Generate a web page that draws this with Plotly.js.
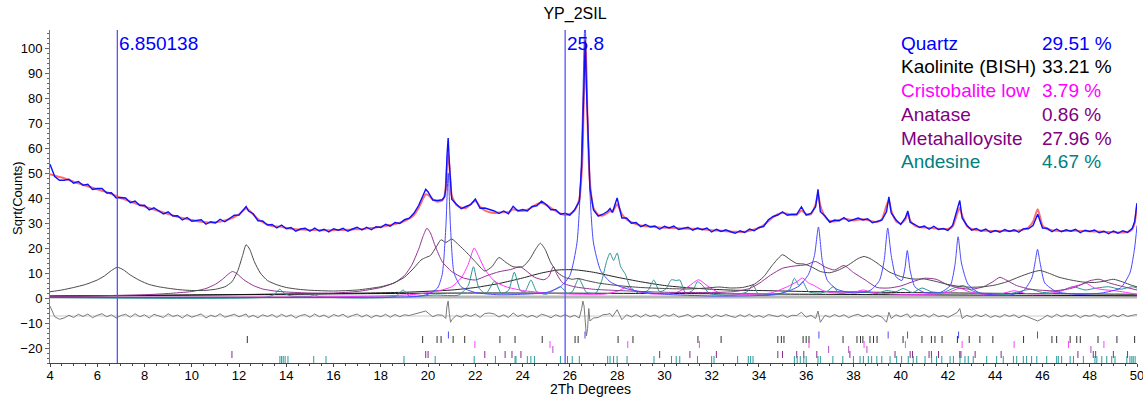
<!DOCTYPE html>
<html>
<head>
<meta charset="utf-8">
<script src="https://cdn.plot.ly/plotly-3.0.1.min.js"></script>
<style>html,body{margin:0;padding:0;background:#fff}#chart{width:1143px;height:400px}</style>
</head>
<body>
<div id="chart"></div>
<script>
// ---------- DATA ----------
const twoTheta = [
4.0,4.1,4.2,4.4,4.6,4.8,5.0,5.2,5.4,5.6,
5.8,6.0,6.2,6.4,6.6,6.8,7.0,7.2,7.4,7.6,
7.8,8.0,8.2,8.4,8.6,8.8,9.0,9.2,9.4,9.6,
9.8,10.0,10.2,10.4,10.6,10.8,11.0,11.2,11.4,11.6,
11.8,12.0,12.2,12.3,12.4,12.6,12.8,13.0,13.2,13.4,
13.6,13.8,14.0,14.2,14.4,14.6,14.8,15.0,15.2,15.4,
15.6,15.8,16.0,16.2,16.4,16.6,16.8,17.0,17.2,17.4,
17.6,17.8,18.0,18.2,18.4,18.6,18.8,19.0,19.2,19.4,
19.6,19.8,19.9,20.0,20.2,20.4,20.6,20.7,20.75,20.8,
20.85,20.9,20.95,21.0,21.2,21.4,21.6,21.8,22.0,22.2,
22.4,22.6,22.8,23.0,23.2,23.4,23.6,23.8,24.0,24.2,
24.4,24.6,24.8,25.0,25.2,25.4,25.6,25.8,26.0,26.2,
26.4,26.5,26.55,26.6,26.65,26.7,26.75,26.8,26.85,27.0,
27.2,27.4,27.6,27.7,27.8,28.0,28.2,28.4,28.6,28.8,
29.0,29.2,29.4,29.6,29.8,30.0,30.2,30.4,30.6,30.8,
31.0,31.2,31.4,31.6,31.8,32.0,32.2,32.4,32.6,32.8,
33.0,33.2,33.4,33.6,33.8,34.0,34.2,34.4,34.6,34.8,
35.0,35.2,35.4,35.6,35.8,36.0,36.2,36.4,36.5,36.6,
36.8,37.0,37.2,37.4,37.6,37.8,38.0,38.2,38.4,38.6,
38.8,39.0,39.2,39.4,39.5,39.6,39.8,40.0,40.2,40.3,
40.4,40.6,40.8,41.0,41.2,41.4,41.6,41.8,42.0,42.2,
42.4,42.5,42.6,42.8,43.0,43.2,43.4,43.6,43.8,44.0,
44.2,44.4,44.6,44.8,45.0,45.2,45.4,45.6,45.8,46.0,
46.2,46.4,46.6,46.8,47.0,47.2,47.4,47.6,47.8,48.0,
48.2,48.4,48.6,48.8,49.0,49.2,49.4,49.6,49.8,49.9,
50.0];
const calcCounts = [
49.5,49.2,48.9,48.4,47.9,47.2,46.5,45.9,45.3,44.7,
44.1,43.5,42.9,42.3,41.6,40.8,40.0,39.3,38.6,37.9,
37.3,36.6,36.0,35.4,34.8,34.2,33.6,33.0,32.5,32.0,
31.6,31.2,30.8,30.5,30.3,30.2,30.3,30.6,31.0,31.6,
32.4,33.5,35.2,35.8,35.3,33.4,31.6,30.3,29.4,28.8,
28.6,28.5,28.0,27.7,27.5,27.4,27.3,27.2,27.2,27.1,
27.1,27.1,27.1,27.2,27.2,27.3,27.4,27.5,27.6,27.8,
28.0,28.2,28.5,28.8,29.2,29.6,30.1,30.8,31.7,33.2,
36.0,40.0,41.5,41.2,39.5,38.5,39.0,41.0,45.0,53.0,
58.0,53.0,46.0,41.0,37.2,36.2,36.0,37.5,38.8,36.5,
35.0,34.3,34.0,34.2,34.3,34.3,35.5,35.0,34.8,35.3,
36.3,37.5,38.0,37.2,36.0,34.8,33.8,33.3,33.6,35.0,
39.5,50.0,62.0,85.0,104.0,92.0,70.0,55.0,46.0,36.0,
33.3,33.0,34.0,34.8,34.5,37.5,33.5,31.5,30.3,29.6,
29.0,28.7,28.6,28.4,28.2,28.1,28.1,28.0,27.9,27.8,
27.7,27.7,27.7,27.5,27.3,27.1,27.0,26.9,26.7,26.6,
26.5,26.4,26.5,26.9,27.4,28.0,29.2,30.7,32.3,33.5,
34.0,33.7,33.2,33.3,35.0,33.6,33.5,37.5,41.5,37.0,
32.5,30.8,30.6,31.2,31.7,31.4,31.0,31.3,31.5,31.2,
30.7,30.4,31.5,37.0,39.0,35.0,30.8,29.7,31.5,34.0,
31.0,28.9,28.4,28.2,28.0,27.9,27.7,27.6,27.6,28.6,
34.0,36.0,33.0,28.8,27.6,27.2,27.0,26.9,26.8,26.8,
26.8,26.8,26.8,26.8,27.0,27.4,28.2,30.5,35.5,29.0,
27.6,27.1,26.9,26.8,26.8,26.9,26.9,26.8,26.8,26.7,
26.6,26.6,26.5,26.4,26.3,26.2,26.2,26.4,27.5,30.0,
37.5];
// observed minus calculated
const residual = [
4.0,2.0,-0.3,-1.3,-0.8,0.3,-0.6,0.7,-0.2,0.8,
-0.7,0.3,0.9,-0.3,0.5,-0.8,0.2,0.7,-0.5,0.9,
-0.3,0.5,-0.8,0.7,0.1,-0.6,0.9,-0.2,0.4,-0.8,
0.6,-0.5,0.2,0.8,-0.8,0.3,-0.3,0.9,-0.5,0.1,
0.7,-0.3,0.6,0.8,-0.5,0.3,-0.7,0.5,-0.2,0.6,
-0.6,0.7,-0.3,0.5,-0.8,0.2,0.6,-0.5,0.8,-0.3,
0.4,-0.7,0.6,-0.1,0.7,-0.6,0.2,0.8,-0.4,0.5,
-0.7,0.3,-0.3,0.7,-0.5,0.6,-0.3,0.5,0.2,0.7,
1.0,1.6,2.0,1.2,-0.3,0.5,0.3,-0.5,-1.0,4.0,
6.0,1.0,-2.5,-1.5,0.3,-0.5,0.6,-0.2,0.8,-0.6,
1.0,1.2,0.8,-0.4,0.5,-0.6,1.2,-0.2,0.6,-0.5,
0.3,-0.6,0.7,0.2,-0.7,0.5,-0.3,0.6,-0.5,0.3,
-0.8,3.0,6.0,4.0,-1.0,-8.0,-5.0,3.0,-2.0,-0.8,
-0.6,0.5,0.7,1.0,-0.3,2.5,-1.5,0.5,-0.4,0.6,
-0.5,0.7,-0.2,0.4,-0.7,0.6,-0.1,0.8,-0.5,0.2,
0.6,-0.6,0.3,-0.2,0.7,-0.7,0.5,-0.3,0.6,-0.1,
-0.6,0.5,-0.3,0.7,-0.5,0.2,-0.6,0.6,0.3,-0.3,
0.5,-0.6,0.3,0.2,1.5,-0.5,0.3,-1.0,2.0,-2.5,
0.3,-0.5,0.6,-0.3,0.5,-0.7,0.2,0.7,-0.3,0.5,
-0.6,0.3,-0.4,-2.5,1.5,-1.0,0.5,-0.3,0.6,0.8,
-0.7,0.5,-0.2,0.6,-0.5,0.8,-0.3,0.2,-0.6,0.5,
1.5,3.0,-1.0,0.3,-0.5,0.6,-0.3,0.7,-0.6,0.2,
-0.5,0.6,-0.2,0.5,-0.7,0.3,-0.5,-1.5,-2.0,-1.0,
0.3,-0.6,0.7,-0.3,0.5,-0.2,0.6,-0.7,0.3,-0.1,
0.6,-0.5,0.2,-0.7,0.5,-0.3,0.7,-0.2,0.4,0.5,
0.5];

// phase contributions
const quartzX = [4,18,19.5,20.0,20.4,20.6,20.75,20.85,20.95,21.1,21.4,22,23,24,25,25.6,26.0,26.3,26.45,26.55,26.64,26.73,26.85,27.0,27.3,27.7,28.3,29,30,32,34,35,35.7,36.1,36.35,36.52,36.68,36.9,37.3,38,38.7,39.1,39.3,39.45,39.6,39.8,40.05,40.18,40.28,40.4,40.6,41,41.7,42.1,42.3,42.43,42.57,42.85,43.3,44.5,45.2,45.55,45.7,45.79,45.9,46.1,46.6,47.5,48.5,49.3,49.7,49.9,50];
const quartzY = [0.2,0.3,0.6,1.5,4.0,9.5,28,50,28,10,4.5,2.2,1.3,1.5,2.2,4.5,9,22,45,80,112,80,42,22,11,6.5,4,2.5,1.5,0.8,1.0,2.0,4.8,9.5,17,28.4,15,7,3.5,2.0,3.0,7.0,15,28,17,8.5,7,12,19,11,4.5,2.2,2.3,5,13.5,24.5,14,5.5,2.2,1.0,3.0,8,15,19.5,14,6,2.5,1.5,2.0,4.0,10,20,29];

const kaoliniteX = [4,4.5,5,5.5,6,6.3,6.6,6.85,7.1,7.4,7.8,8.2,8.6,9,9.5,10,10.5,11,11.4,11.7,11.95,12.15,12.3,12.45,12.65,12.9,13.2,13.6,14,14.5,15,16,17,18,18.5,19,19.4,19.7,19.9,20.1,20.35,20.55,20.75,21.0,21.3,21.6,21.8,22.0,22.4,22.7,23.0,23.3,23.6,24.0,24.3,24.55,24.75,24.95,25.2,25.5,25.8,26.1,26.35,26.7,27.2,28,29,30,31,31.8,32.3,32.8,33.3,33.8,34.2,34.6,35.0,35.3,35.6,35.9,36.2,36.6,37.0,37.4,37.8,38.2,38.45,38.7,39.0,39.5,40.0,40.5,41.0,41.5,42.0,42.5,43.0,43.5,44.0,44.5,45.0,45.5,45.9,46.3,46.7,47.2,47.7,48.2,48.6,49.0,49.4,49.8,50];
const kaoliniteY = [2.5,3.2,4.2,5.4,7.2,8.8,11.0,12.3,11.3,9.2,7.0,5.4,4.5,3.9,3.3,3.0,3.0,3.5,4.5,6.5,11,17,21.3,19.5,14.5,10.0,7.0,5.3,4.2,3.5,3.1,2.8,3.2,4.5,5.8,8.3,12.0,15.2,16.2,17.0,20.5,23.3,22.2,23.6,21.2,18.5,16.5,14.5,10.8,12.5,16.2,14.2,12.5,12.5,15.5,19.5,21.9,19.5,14.0,10.0,8.2,7.5,7.8,7.0,6.0,5.0,4.2,3.8,3.6,4.0,4.4,4.0,4.2,5.5,8.5,13.5,17.3,15.5,13.8,13.6,12.6,10.6,10.1,11.3,13.3,15.8,16.6,15.8,14.0,10.5,8.6,7.6,7.6,6.6,5.4,4.6,4.3,4.5,5.2,6.5,8.4,10.1,11.0,9.8,8.3,7.2,6.4,6.2,6.7,7.5,6.4,5.0,4.5];

const humpX = [4,10,16,19,21,22,23,24,24.8,25.5,26.2,27,28,29,30,31,32,33,34,36,40,45,50];
const humpY = [0.8,1.2,1.8,2.3,3.2,4.2,5.8,8.0,10.0,11.2,11.3,10.3,8.3,6.5,5.0,4.1,3.5,3.1,3.0,2.6,2.2,1.8,1.5];

const metahalloysiteX = [4,6,8,9,10,10.6,11.0,11.3,11.55,11.72,11.9,12.2,12.6,13.0,13.5,14,15,16,17,18,18.6,19.0,19.3,19.6,19.8,19.95,20.1,20.3,20.6,21.0,21.5,22.0,22.5,23.0,23.5,23.9,24.2,24.5,24.9,25.1,25.3,25.45,25.7,26.2,27,28,30,32,33,33.6,34.0,34.5,35.0,35.5,36.0,36.4,36.8,37.2,37.6,38.0,38.5,39.0,39.5,40.0,40.5,41.0,41.5,42.0,42.5,43.0,43.5,43.9,44.2,44.5,44.9,45.5,46.5,47.2,47.6,48.0,48.4,48.8,49.3,50];
const metahalloysiteY = [0.6,0.9,1.3,1.8,2.6,3.8,5.5,7.5,9.6,10.6,9.8,7.3,5.0,3.6,2.8,2.4,2.0,2.0,2.6,4.2,6.2,9.0,13.0,19.5,25.0,27.9,26.0,20.8,14.5,10.6,8.0,7.2,9.0,10.5,11.4,12.5,10.5,8.3,7.3,8.5,12.5,9.5,6.0,4.5,3.5,3.0,2.3,2.2,2.6,3.8,5.8,9.2,11.9,12.8,13.3,14.6,12.4,11.2,13.0,10.2,7.2,4.2,4.0,4.8,6.5,7.9,7.5,5.2,4.0,3.5,4.5,6.5,8.3,7.0,5.0,3.5,2.9,3.8,5.2,6.9,7.5,6.1,4.8,3.2];

const cristobaliteX = [4,15,18,19.5,20.5,21.0,21.4,21.7,21.95,22.15,22.4,22.8,23.3,24,25,26,27.5,28.1,28.4,28.7,29.5,30.5,31.0,31.45,31.8,32.3,33.5,34.5,35.2,35.6,35.85,36.1,36.3,36.7,37.2,38.0,38.4,38.8,40.0,41.5,42.1,42.5,42.9,43.5,44.3,44.8,45.3,46.3,46.8,47.2,47.6,47.85,48.2,48.6,49.0,49.5,50];
const cristobaliteY = [0.3,0.4,0.8,1.5,3.0,4.5,8.0,13.5,20.0,16.5,11.5,6.8,4.5,3.0,2.0,1.6,1.6,3.0,4.5,3.0,1.6,2.2,4.5,7.3,5.0,2.2,1.5,2.0,4.5,6.5,8.0,6.0,5.2,3.0,2.0,2.2,3.2,2.2,1.5,1.6,2.5,3.9,2.5,1.5,1.8,2.9,1.8,1.8,2.8,4.3,5.3,5.9,4.0,3.3,3.0,2.3,1.5];

const andesineX = [4,13.2,13.5,13.72,13.9,14.2,15.0,15.2,15.4,18.6,18.95,19.2,20.3,21.3,21.7,21.92,22.15,22.45,22.82,23.1,23.4,23.65,23.9,24.1,24.35,24.6,25.0,25.6,25.9,26.1,26.38,26.7,27.1,27.35,27.55,27.7,27.85,28.0,28.15,28.35,28.55,28.9,29.3,29.55,29.8,30.05,30.3,30.5,30.65,30.9,31.2,31.4,31.6,31.9,32.4,33.0,33.5,33.75,34.0,34.8,35.3,35.5,35.7,35.85,36.1,36.6,36.9,37.15,37.4,37.9,38.4,39.0,39.4,39.8,40.1,40.5,40.9,41.3,41.8,42.3,42.65,43.0,43.5,44.5,45.0,45.5,46.0,46.8,47.3,47.8,48.3,48.8,49.3,49.8,50];
const andesineY = [0.2,0.4,1.5,3.5,2.0,0.8,0.6,1.2,0.5,0.6,3.2,0.8,1.2,1.2,5.0,12.5,4.0,1.8,6.8,1.8,3.0,10.3,3.0,2.5,7.2,2.5,1.5,4.5,1.8,2.5,7.8,2.3,2.0,7.0,14.5,18.0,15.0,18.0,12.5,9.5,4.5,2.0,3.0,7.2,2.5,3.5,7.3,7.0,7.2,2.0,3.0,6.5,5.2,1.8,1.2,1.2,2.5,5.2,1.2,1.5,3.5,7.9,5.0,6.5,2.5,2.0,2.8,4.5,1.8,2.5,2.5,1.8,3.0,2.5,3.8,2.2,4.0,2.5,2.2,4.2,5.0,3.0,1.5,1.5,2.5,3.5,2.2,3.0,4.5,3.2,4.0,4.5,3.5,4.5,4.0];

const backgroundX = [4,14,22,30,40,50];
const backgroundY = [0.7,1.5,2.0,1.8,1.3,0.9];

// reflection positions (tick marks) per phase
const quartzRefl = [20.86,26.64,36.54,39.47,40.29,42.45,45.79];
const kaoliniteRefl = [12.35,19.77,20.38,20.55,21.06,21.55,23.04,23.68,24.83,26.22,26.35,28.04,28.67,31.42,32.4,34.8,34.95,35.06,35.87,36.0,36.12,37.56,38.15,38.3,38.4,38.7,38.85,39.0,40.1,40.9,41.3,41.45,41.75,42.4,42.9,43.35,43.9,45.2,46.4,46.6,47.17,47.45,47.6,48.35,49.15,49.9];
const cristobaliteRefl = [21.98,25.16,28.45,31.48,36.12,38.45,40.2,42.6,44.8,47.1,48.6];
const anataseRefl = [25.28,36.95,37.8,38.57,48.05];
const metahalloysiteRefl = [11.7,19.9,20.0,22.4,23.26,23.55,23.93,29.8,31.08,32.2,34.8,35.0,35.6,35.9,36.45,37.85,39.76,40.4,40.5,41.2,41.3,41.6,42.5,42.55,43.15,44.25,47.5,48.15,48.25,49.0,49.6];
const andesineRefl = [13.73,13.8,13.87,13.95,14.07,15.16,15.68,18.98,20.3,21.95,22.85,23.68,23.72,24.2,24.35,24.5,25.6,25.9,26.1,26.4,27.6,27.7,27.85,28.0,28.42,29.56,30.3,30.5,30.65,31.4,32.0,32.1,33.1,33.55,33.65,33.75,35.5,35.62,35.75,35.9,36.0,36.5,36.6,37.13,37.55,38.0,38.28,38.42,38.63,38.77,38.99,39.2,39.55,39.83,40.04,40.32,40.53,40.68,41.03,41.31,41.52,41.74,42.09,42.23,42.51,42.72,42.86,43.07,43.64,44.06,44.34,44.77,44.91,45.19,45.33,45.54,45.76,46.18,46.6,46.67,46.81,47.17,47.31,47.73,48.22,48.3,48.51,48.72,48.93,49.07,49.57,49.7,49.78,49.84,49.92];

const cursors = [6.850138, 25.8];
const cursorLabels = ["6.850138", "25.8"];

const phaseNames = ["Quartz","Kaolinite (BISH)","Cristobalite low","Anatase","Metahalloysite","Andesine"];
const phasePercent = ["29.51 %","33.21 %","3.79 %","0.86 %","27.96 %","4.67 %"];

// ---------- STYLE ----------
const FONT = "Liberation Sans, Arial, sans-serif";
const phaseColors = ["#0000ff","#000000","#ff00ff","#800080","#800080","#008080"];
const tickColors = ["#4a4aff","#333333","#ff44ff","#b050c0","#8a2a8a","#2a9a9a"];
const tickRows = [-14.8,-16.6,-18.6,-20.6,-22.6,-24.6];
const DIFF_OFFSET = -7.2;
// plot-area pixel frame, for placing free text
const PX = {l: 50, r: 1137, t: 30, b: 363};
const px2x = p => (p - PX.l) / (PX.r - PX.l);
const px2y = p => (PX.b - p) / (PX.b - PX.t);

const obsCounts = twoTheta.map((_, i) => calcCounts[i] + residual[i]);
const diffCounts = residual.map(r => r + DIFF_OFFSET);

function line(x, y, color, width, shape) {
  return {x, y, type: "scatter", mode: "lines", hoverinfo: "skip",
          line: {color, width: width || 1, shape: shape || "spline", smoothing: 0.6}};
}

const traces = [
  line(backgroundX, backgroundY.map(()=>0.4), "#b8b8b8", 3, "linear"),
  line(humpX, humpY, "#222222", 1),
  line(backgroundX, backgroundY, "#111111", 1),
  line(andesineX, andesineY, "#2a9494", 1),
  line(cristobaliteX, cristobaliteY, "#ff33ff", 1),
  line(metahalloysiteX, metahalloysiteY, "#933393", 1),
  line(kaoliniteX, kaoliniteY, "#4a4a4a", 1),
  line(quartzX, quartzY, "#4848ff", 1),
  line(twoTheta, diffCounts, "#7a7a7a", 1, "linear"),
  line(twoTheta, calcCounts, "rgba(255,60,60,0.75)", 2, "spline"),
  line(twoTheta, obsCounts, "#1010ff", 1.4, "linear")
];

const refl = [quartzRefl, kaoliniteRefl, cristobaliteRefl, anataseRefl, metahalloysiteRefl, andesineRefl];
refl.forEach((xs, k) => {
  traces.push({x: xs, y: xs.map(() => tickRows[k]), type: "scatter", mode: "markers", hoverinfo: "skip",
    marker: {symbol: "line-ns", size: 5, line: {color: tickColors[k], width: 1}}});
});

const shapes = [
  {type: "line", xref: "paper", yref: "y", x0: 0, x1: 1, y0: DIFF_OFFSET, y1: DIFF_OFFSET,
   line: {color: "#cccccc", width: 1}, layer: "below"}
];
cursors.forEach(c => shapes.push({type: "line", xref: "x", yref: "paper", x0: c, x1: c, y0: 0, y1: 1,
   line: {color: "#5555ff", width: 1.3}}));

const annotations = [];
cursors.forEach((c, i) => annotations.push({x: c, y: 102, xref: "x", yref: "y", text: cursorLabels[i],
   showarrow: false, xanchor: "left", yanchor: "middle",
   font: {family: FONT, size: 19, color: "#0000ff"}}));
phaseNames.forEach((n, i) => {
  const yPix = 43 + i * 23.8;
  annotations.push({x: px2x(899), y: px2y(yPix), xref: "paper", yref: "paper", text: n, showarrow: false,
    xanchor: "left", yanchor: "middle", font: {family: FONT, size: 19, color: phaseColors[i]}});
  annotations.push({x: px2x(1040), y: px2y(yPix), xref: "paper", yref: "paper", text: phasePercent[i], showarrow: false,
    xanchor: "left", yanchor: "middle", font: {family: FONT, size: 19, color: phaseColors[i]}});
});
// axis titles
annotations.push({x: px2x(590), y: px2y(389), xref: "paper", yref: "paper", text: "2Th Degrees", showarrow: false,
  xanchor: "center", yanchor: "middle", font: {family: FONT, size: 14, color: "#000"}});
annotations.push({x: px2x(18), y: px2y(198), xref: "paper", yref: "paper", text: "Sqrt(Counts)", showarrow: false,
  textangle: -90, xanchor: "center", yanchor: "middle", font: {family: FONT, size: 13, color: "#000"}});

const layout = {
  width: 1143, height: 400,
  margin: {l: PX.l, r: 1143 - PX.r, t: PX.t, b: 400 - PX.b},
  paper_bgcolor: "#fff", plot_bgcolor: "#fff",
  showlegend: false,
  font: {family: FONT, color: "#000"},
  title: {text: "YP_2SIL", x: 575/1143, xref: "container", xanchor: "center", y: 1 - 13/400, yref: "container", yanchor: "middle",
          font: {family: FONT, size: 16, color: "#000"}},
  xaxis: {range: [4, 50], tick0: 4, dtick: 2, ticks: "outside", ticklen: 3, tickcolor: "#444",
          ticklabelstandoff: -3, ticklabeloverflow: "allow",
          showline: true, linecolor: "#444", linewidth: 1, showgrid: false, zeroline: false,
          tickfont: {family: FONT, size: 13, color: "#000"},
          minor: {ticks: "outside", dtick: 0.5, ticklen: 2, tickcolor: "#444", showgrid: false},
          automargin: false},
  yaxis: {range: [-26, 107.2], tick0: 0, dtick: 10, ticks: "outside", ticklen: 4, tickcolor: "#666",
          showline: true, linecolor: "#777", linewidth: 1, showgrid: false, zeroline: false,
          tickfont: {family: FONT, size: 13, color: "#000"},
          minor: {ticks: "outside", dtick: 2, ticklen: 2, tickcolor: "#666", showgrid: false},
          automargin: false},
  shapes, annotations
};

Plotly.newPlot("chart", traces, layout, {displayModeBar: false, staticPlot: true});
</script>
</body>
</html>
